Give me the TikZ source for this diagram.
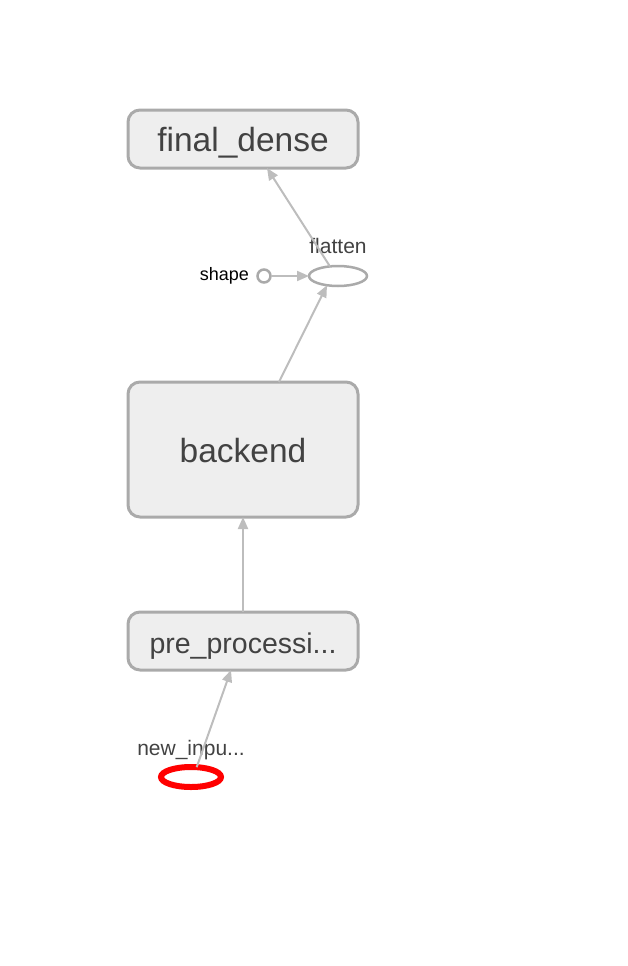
\documentclass[tikz,border=0pt]{standalone}
\usepackage{fontspec}
\setmainfont{Liberation Sans}
\usetikzlibrary{shapes.geometric,arrows.meta}
\definecolor{boxfill}{HTML}{EEEEEE}
\definecolor{boxline}{HTML}{AAAAAA}
\definecolor{edgecol}{HTML}{BDBDBD}
\definecolor{txt}{HTML}{424242}
\tikzset{
  opbox/.style={draw=boxline, line width=3pt, fill=boxfill, rounded corners=12pt,
    minimum width=230pt, inner sep=0pt, outer sep=0pt, text=txt,
    text height=25pt, text depth=0pt},
  opell/.style={ellipse, draw=boxline, line width=2.5pt, fill=white,
    minimum width=58pt, minimum height=20pt, inner sep=0pt, outer sep=0pt},
  lbl/.style={text=txt, inner sep=0pt, font=\fontsize{21}{24}\selectfont},
  edge/.style={draw=edgecol, line width=2pt, -{Triangle[length=12pt,width=10pt]}}
}
\begin{document}
\begin{tikzpicture}[x=1pt,y=-1pt]
\useasboundingbox (0,0) rectangle (628,966);
% boxes
\node[opbox, minimum height=58pt, font=\fontsize{33.5}{38}\selectfont] (fd) at (243,139) {final\_dense};
\node[opbox, minimum height=135pt, font=\fontsize{33.5}{38}\selectfont] (be) at (243,449.5) {backend};
\node[opbox, minimum height=58pt, font=\fontsize{28.5}{32}\selectfont] (pp) at (243,641) {pre\_processi...};
% flatten
\node[opell] (fl) at (338,276) {};
\node[lbl, anchor=base] (fll) at (338,253) {flatten};
% shape
\node[circle, draw=boxline, line width=2.5pt, fill=white, minimum size=13pt, inner sep=0pt, outer sep=0pt] (sh) at (264,276) {};
\node[inner sep=0pt, anchor=east, font=\fontsize{18}{20}\selectfont] (shl) at (249,276) {shape};
% new input
\node[ellipse, draw=red, line width=6pt, fill=white, minimum width=60pt, minimum height=20pt, inner sep=0pt, outer sep=0pt] (ni) at (191,777) {};
\node[lbl, anchor=base] (nil) at (191,755) {new\_inpu...};
% edges
\draw[edge] (fl.130) -- ([xshift=24pt]fd.south);
\draw[edge] ([xshift=36pt]be.north) -- (fl.220);
\draw[edge] (pp.north) -- (be.south);
\draw[edge] (ni.60) -- ([xshift=-12pt]pp.south);
\draw[edge] (sh.east) -- (fl.west);
\end{tikzpicture}
\end{document}
